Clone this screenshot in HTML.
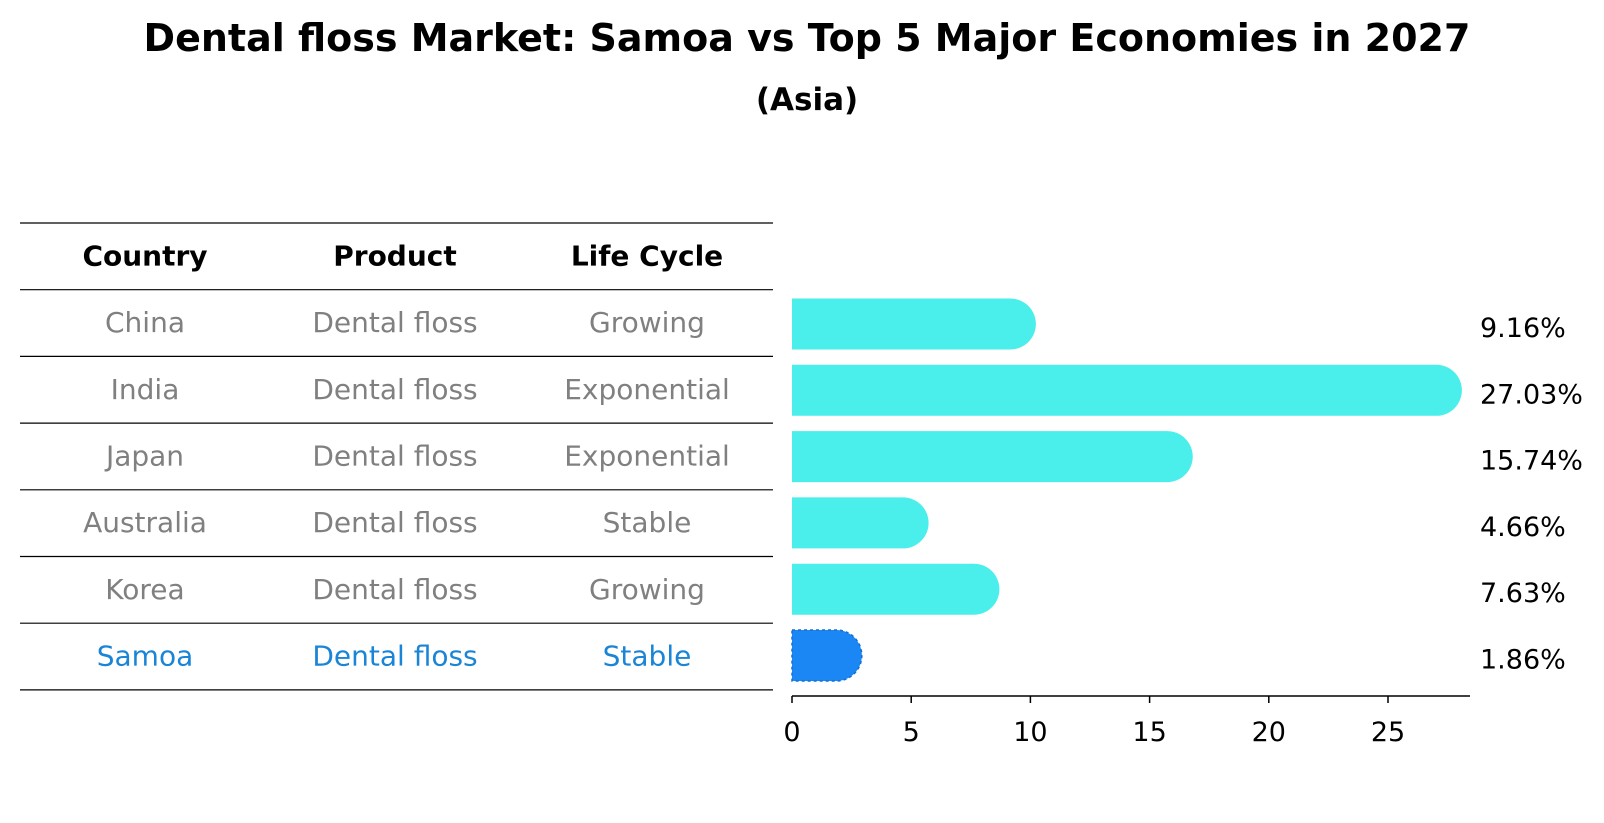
<!DOCTYPE html>
<html><head><meta charset="utf-8"><style>
body{margin:0;background:#fff;}
svg{display:block;font-family:"DejaVu Sans","Liberation Sans",sans-serif;}
</style></head><body>
<svg id="chart" width="1604" height="823" viewBox="0 0 1604 823">
<text x="807" y="51" text-anchor="middle" font-size="38" font-weight="bold" fill="#000">Dental floss Market: Samoa vs Top 5 Major Economies in 2027</text>
<text x="807" y="110" text-anchor="middle" font-size="31" font-weight="bold" fill="#000">(Asia)</text>
<g id="table"></g>
<g id="bars"></g>
</svg>
<script>
const countries = ["China","India","Japan","Australia","Korea","Samoa"];
const products = ["Dental floss","Dental floss","Dental floss","Dental floss","Dental floss","Dental floss"];
const lifeCycles = ["Growing","Exponential","Exponential","Stable","Growing","Stable"];
const values = [9.16,27.03,15.74,4.66,7.63,1.86];
const valueLabels = ["9.16%","27.03%","15.74%","4.66%","7.63%","1.86%"];
const ticks = [0,5,10,15,20,25];
const headers = ["Country","Product","Life Cycle"];

const NS="http://www.w3.org/2000/svg";
function mk(tag,attrs,parent){const e=document.createElementNS(NS,tag);for(const k in attrs)e.setAttribute(k,attrs[k]);parent.appendChild(e);return e;}
const tbl=document.getElementById('table'), bars=document.getElementById('bars');
const X0=792, UNIT=(1388-792)/25;
const xs=v=>X0+v*UNIT;
const rowY=i=>323+i*66.3;
const colX=[145,395,647];
const lineY=i=>223+i*66.7;
for(let i=0;i<=7;i++){
  const l=mk('line',{x1:20,x2:773,y1:lineY(i),y2:lineY(i),stroke:'#000','stroke-width':1.2},tbl);
  
  
}
headers.forEach((h,j)=>{
  const t=mk('text',{x:colX[j],y:(lineY(0)+lineY(1))/2+9,'text-anchor':'middle','font-size':28,'font-weight':'bold',fill:'#000'},tbl);
  t.textContent=h;
  
  
});
countries.forEach((c,i)=>{
  const y=(lineY(i+1)+lineY(i+2))/2+9;
  const col=c==="Samoa"?"#1a85d6":"#808080";
  [c,products[i],lifeCycles[i]].forEach((s,j)=>{
    const t=mk('text',{x:colX[j],y:y,'text-anchor':'middle','font-size':28,fill:col},tbl);
    t.textContent=s;
    
    
  });
});
const H=51,R=25.5;
values.forEach((v,i)=>{
  const cy=rowY(i)+1, top=cy-H/2, xe=xs(v);
  const samoa=countries[i]==="Samoa";
  const p=mk('path',{d:`M${X0},${top} H${xe} A${R},${R} 0 0 1 ${xe},${top+H} H${X0} Z`,fill:samoa?'#1a87f5':'#4aeeea',stroke:samoa?'#1470d0':'none','stroke-width':samoa?1.5:0,'stroke-dasharray':samoa?'3,3':''},bars);
  
  
  const t=mk('text',{x:1480,y:rowY(i)+14,'font-size':27,fill:'#000'},bars);
  t.textContent=valueLabels[i];
  
  
});
const ax=mk('line',{x1:X0,x2:1470,y1:696,y2:696,stroke:'#000','stroke-width':1.5},bars);


ticks.forEach(tv=>{
  const tk=mk('line',{x1:xs(tv),x2:xs(tv),y1:696,y2:703,stroke:'#000','stroke-width':1.5},bars);
  
  
  const t=mk('text',{x:xs(tv),y:741,'text-anchor':'middle','font-size':27,fill:'#000'},bars);
  t.textContent=tv;
  
  
});
</script>
</body></html>
